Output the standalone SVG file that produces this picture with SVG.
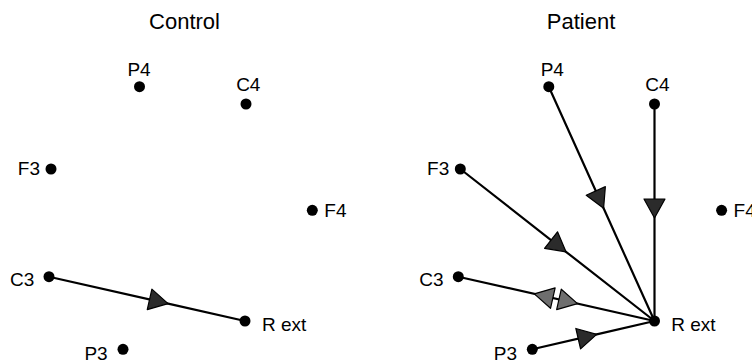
<svg xmlns="http://www.w3.org/2000/svg" width="752" height="363" viewBox="0 0 752 363">
  <style>
    .title { font-family: "Liberation Sans", Arial, sans-serif; font-size: 22px; fill: #000; text-anchor: middle; }
    .lbl { font-family: "Liberation Sans", Arial, sans-serif; font-size: 19px; fill: #000; }
    .mid { text-anchor: middle; }
    .end { text-anchor: end; }
    .dot { fill: #000; }
    .edge { fill: none; stroke: #000; stroke-width: 2.2; }
    .uni { marker-mid: url(#head); }
    .carrier { fill: none; stroke: none; marker-end: url(#head-bi); }
  </style>
  <defs>
    <marker id="head" markerUnits="userSpaceOnUse" viewBox="-1 -1 21 23" markerWidth="21" markerHeight="23" refX="19" refY="10.5" orient="auto" overflow="visible">
      <path d="M0,0 L19,10.5 L0,21 Z" fill="#2b2b2b" stroke="#000" stroke-width="1.2" stroke-linejoin="round"/>
    </marker>
    <marker id="head-bi" markerUnits="userSpaceOnUse" viewBox="-1 -1 21 23" markerWidth="21" markerHeight="23" refX="19" refY="10.5" orient="auto" overflow="visible">
      <path d="M0,0 L19,10.5 L0,21 Z" fill="#6e6e6e" stroke="#000" stroke-width="1.2" stroke-linejoin="round"/>
    </marker>
  </defs>

  <rect width="752" height="363" fill="#fff"/>

  <text class="title" x="184.5" y="29">Control</text>
  <text class="title" x="581" y="29">Patient</text>

  <!-- connectors: each path passes through the arrow tip so marker-mid sits on it -->
  <g id="edges">
    <path id="ctl-C3-Rext" class="edge uni" d="M49,276.7 L168.1,303.6 L245,321"/>
    <path id="pat-P4-Rext" class="edge uni" d="M548.8,86.7 L603.6,208.3 L654.5,321"/>
    <path id="pat-C4-Rext" class="edge uni" d="M654.5,104 L654.5,218 L654.5,321"/>
    <path id="pat-F3-Rext" class="edge uni" d="M460.3,169 L566,251.8 L654.5,321"/>
    <!-- two-way edge: one line, two heads carried by short stroke-less paths -->
    <g id="pat-C3-Rext">
      <path class="edge" d="M458.3,276.7 L654.5,321"/>
      <path class="carrier" d="M554.3,298.38 L534.3,293.86"/>
      <path class="carrier" d="M557.5,299.09 L577.5,303.61"/>
    </g>
    <path id="pat-P3-Rext" class="edge uni" d="M532.3,349.3 L596.7,334.4 L654.5,321"/>
  </g>

  <!-- Control panel nodes -->
  <g id="ctl-P4"><circle class="dot" cx="139.5" cy="86.7" r="5.5"/><text class="lbl mid" x="139" y="76">P4</text></g>
  <g id="ctl-C4"><circle class="dot" cx="246" cy="104" r="5.5"/><text class="lbl mid" x="248.3" y="91">C4</text></g>
  <g id="ctl-F3"><circle class="dot" cx="51" cy="169" r="5.5"/><text class="lbl end" x="40" y="175">F3</text></g>
  <g id="ctl-F4"><circle class="dot" cx="312.3" cy="210.3" r="5.5"/><text class="lbl" x="324.3" y="216.5">F4</text></g>
  <g id="ctl-C3"><circle class="dot" cx="49" cy="276.7" r="5.5"/><text class="lbl end" x="34.3" y="285.5">C3</text></g>
  <g id="ctl-Rext"><circle class="dot" cx="245" cy="321" r="5.5"/><text class="lbl" x="262" y="330.5">R ext</text></g>
  <g id="ctl-P3"><circle class="dot" cx="123" cy="349.3" r="5.5"/><text class="lbl end" x="107.7" y="359.5">P3</text></g>

  <!-- Patient panel nodes -->
  <g id="pat-P4"><circle class="dot" cx="548.8" cy="86.7" r="5.5"/><text class="lbl mid" x="552.3" y="76">P4</text></g>
  <g id="pat-C4"><circle class="dot" cx="654.5" cy="104" r="5.5"/><text class="lbl mid" x="657.5" y="91">C4</text></g>
  <g id="pat-F3"><circle class="dot" cx="460.3" cy="169" r="5.5"/><text class="lbl end" x="449.3" y="175">F3</text></g>
  <g id="pat-F4"><circle class="dot" cx="721.6" cy="210.3" r="5.5"/><text class="lbl" x="733.6" y="216.5">F4</text></g>
  <g id="pat-C3"><circle class="dot" cx="458.3" cy="276.7" r="5.5"/><text class="lbl end" x="443.6" y="285.5">C3</text></g>
  <g id="pat-Rext"><circle class="dot" cx="654.5" cy="321" r="5.5"/><text class="lbl" x="671.3" y="330.5">R ext</text></g>
  <g id="pat-P3"><circle class="dot" cx="532.3" cy="349.3" r="5.5"/><text class="lbl end" x="517" y="359.5">P3</text></g>
</svg>
